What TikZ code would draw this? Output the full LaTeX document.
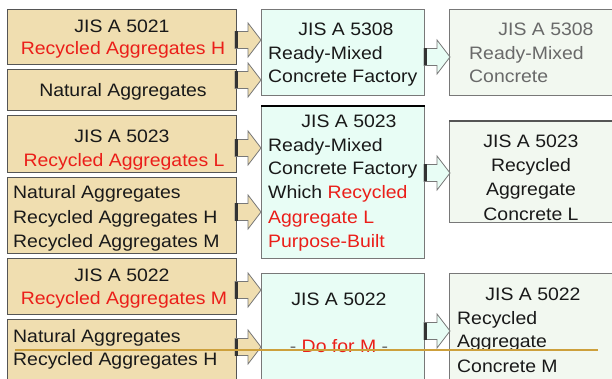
\documentclass[tikz,border=0pt]{standalone}
\usepackage{fontspec}
\setmainfont[FakeStretch=1.08]{Liberation Sans}
\definecolor{tanfill}{RGB}{240,222,176}
\definecolor{mintfill}{RGB}{232,253,245}
\definecolor{palefill}{RGB}{242,248,240}
\definecolor{boxline}{RGB}{85,85,85}
\definecolor{lightline}{RGB}{120,120,120}
\definecolor{txt}{RGB}{25,25,25}
\definecolor{redtxt}{RGB}{235,30,25}
\definecolor{greytxt}{RGB}{105,105,105}
\definecolor{ochre}{RGB}{205,160,60}
\tikzset{
  lbox/.style={draw=boxline, line width=1.2pt, fill=tanfill, rectangle, inner sep=0pt, anchor=north west},
  mbox/.style={draw=lightline, line width=0.9pt, fill=mintfill, rectangle, inner sep=0pt, anchor=north west},
  rbox/.style={draw=lightline, line width=0.9pt, fill=palefill, rectangle, inner sep=0pt, anchor=north west},
  lbl/.style={inner sep=0pt, text=txt, font=\fontsize{18}{23.5}\selectfont},
  red/.style={text=redtxt},
  grey/.style={text=greytxt},
  blockarrow/.pic={
    \path[pic actions] (0,-8.5) -- (13,-8.5) -- (13,-17) -- (26,0) -- (13,17) -- (13,8.5) -- (0,8.5) -- cycle;
    \fill[black!80] (0,-8.5) rectangle (3,8.5);
  },
  larrow/.style={fill=tanfill, draw=lightline, line width=0.8pt},
  marrow/.style={fill=mintfill, draw=lightline, line width=0.8pt},
}
\begin{document}
\begin{tikzpicture}[x=1pt, y=-1pt]
\useasboundingbox (0,0) rectangle (612,379);
\fill[white] (0,0) rectangle (612,379);
\clip (0,0) rectangle (612,379);

% source aggregates
\node[lbox, minimum width=229pt, minimum height=55pt] (b1) at (7,9) {};
\node[lbox, minimum width=229pt, minimum height=41pt] (b2) at (7,69) {};
\node[lbox, minimum width=229pt, minimum height=57pt] (b3) at (7,115) {};
\node[lbox, minimum width=229pt, minimum height=76pt] (b4) at (7,177) {};
\node[lbox, minimum width=229pt, minimum height=56pt] (b5) at (7,258) {};
\node[lbox, minimum width=229pt, minimum height=70pt] (b6) at (7,319) {};

% factories
\node[mbox, minimum width=163pt, minimum height=86pt] (mA) at (261,9) {};
\node[mbox, minimum width=163pt, minimum height=152pt] (mB) at (261,106) {};
\node[mbox, minimum width=163pt, minimum height=116pt] (mC) at (261,273) {};
\draw[black, line width=1.8pt] (mB.north west) -- (mB.north east);

% products
\node[rbox, minimum width=175pt, minimum height=86pt] (rA) at (449,9) {};
\node[rbox, minimum width=175pt, minimum height=101pt] (rB) at (449,121) {};
\node[rbox, minimum width=175pt, minimum height=116pt] (rC) at (449,273) {};
\draw[boxline, line width=1.4pt] (rB.north west) -- (rB.north east);

% block arrows
\pic[larrow] at (235,40) {blockarrow};
\pic[larrow] at (235,80) {blockarrow};
\pic[larrow] at (235,148) {blockarrow};
\pic[larrow] at (235,212) {blockarrow};
\pic[larrow] at (235,290) {blockarrow};
\pic[larrow] at (235,347) {blockarrow};
\pic[marrow] at (424,57) {blockarrow};
\pic[marrow] at (424,173) {blockarrow};
\pic[marrow] at (424,331) {blockarrow};

% texts: aggregates
\node[lbl, anchor=base] (t1a) at (122,33) {JIS A 5021};
\node[lbl, red, anchor=base] (t1b) at (123,55) {Recycled Aggregates H};
\node[lbl, anchor=base] (t2a) at (123,97) {Natural Aggregates};
\node[lbl, anchor=base] (t3a) at (122,143) {JIS A 5023};
\node[lbl, red, anchor=base] (t3b) at (124,167) {Recycled Aggregates L};
\node[lbl, anchor=base west] (t4a) at (13,199) {Natural Aggregates};
\node[lbl, anchor=base west] (t4b) at (13,223) {Recycled Aggregates H};
\node[lbl, anchor=base west] (t4c) at (13,247) {Recycled Aggregates M};
\node[lbl, anchor=base] (t5a) at (122,281) {JIS A 5022};
\node[lbl, red, anchor=base] (t5b) at (124,304) {Recycled Aggregates M};
\node[lbl, anchor=base west] (t6a) at (13,342) {Natural Aggregates};
\node[lbl, anchor=base west] (t6b) at (13,365) {Recycled Aggregates H};

% texts: factories
\node[lbl, anchor=base] (ma1) at (346,36) {JIS A 5308};
\node[lbl, anchor=base west] (ma2) at (268,60) {Ready-Mixed};
\node[lbl, anchor=base west] (ma3) at (268,83) {Concrete Factory};
\node[lbl, anchor=base] (mb1) at (349,128) {JIS A 5023};
\node[lbl, anchor=base west] (mb2) at (268,152) {Ready-Mixed};
\node[lbl, anchor=base west] (mb3) at (268,175) {Concrete Factory};
\node[lbl, anchor=base west] (mb4) at (268,199) {Which \textcolor{redtxt}{Recycled}};
\node[lbl, red, anchor=base west] (mb5) at (268,223) {Aggregate L};
\node[lbl, red, anchor=base west] (mb6) at (268,247) {Purpose-Built};
\node[lbl, anchor=base] (mc1) at (339,305) {JIS A 5022};
\node[lbl, red, anchor=base] (mc2) at (339,352) {\textcolor{greytxt}{-} Do for M \textcolor{greytxt}{-}};

% texts: products
\node[lbl, grey, anchor=base] (ra1) at (546,36) {JIS A 5308};
\node[lbl, grey, anchor=base west] (ra2) at (469,60) {Ready-Mixed};
\node[lbl, grey, anchor=base west] (ra3) at (469,83) {Concrete};
\node[lbl, anchor=base] (rb1) at (531,148) {JIS A 5023};
\node[lbl, anchor=base] (rb2) at (531,172) {Recycled};
\node[lbl, anchor=base] (rb3) at (531,196) {Aggregate};
\node[lbl, anchor=base] (rb4) at (531,220) {Concrete L};
\node[lbl, anchor=base] (rc1) at (533,300) {JIS A 5022};
\node[lbl, anchor=base west] (rc2) at (457,324) {Recycled};
\node[lbl, anchor=base west] (rc3) at (457,347) {Aggregate};
\node[lbl, anchor=base west] (rc4) at (457,372) {Concrete M};

% stray horizontal rule
\coordinate (hl) at (15,350);
\coordinate (hr) at (598,350);
\draw[ochre, line width=1.5pt] (hl) -- (hr);
\end{tikzpicture}
\end{document}
